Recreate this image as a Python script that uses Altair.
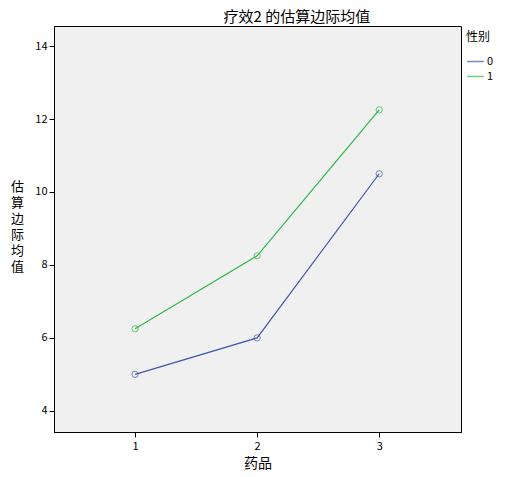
import altair as alt
import pandas as pd

drug = [1, 2, 3]
sex0 = [5.0, 6.0, 10.5]
sex1 = [6.25, 8.25, 12.25]
groups = ["0", "1"]
colors = ["#3E58AC", "#2EB848"]

rows = []
for d, v in zip(drug, sex0):
    rows.append({"药品": d, "均值": v, "性别": "0"})
for d, v in zip(drug, sex1):
    rows.append({"药品": d, "均值": v, "性别": "1"})
df = pd.DataFrame(rows)

FONT = "Noto Sans CJK SC"

base = alt.Chart(df).encode(
    x=alt.X("药品:Q", scale=alt.Scale(domain=[0.336, 3.67], nice=False, zero=False),
            axis=alt.Axis(values=[1, 2, 3], format="d", title="药品", grid=False,
                          tickSize=5, tickColor="#000", domainColor="#000",
                          labelFontSize=11, labelFont=FONT, labelColor="#000",
                          titleFont=FONT, titleFontSize=14, titleFontWeight="normal",
                          titleColor="#000", titlePadding=5, labelPadding=3)),
    y=alt.Y("均值:Q", scale=alt.Scale(domain=[3.42, 14.55], nice=False, zero=False),
            axis=alt.Axis(values=[4, 6, 8, 10, 12, 14], grid=False, tickSize=5,
                          tickColor="#000", domainColor="#000",
                          labelFontSize=11, labelFont=FONT, labelColor="#000",
                          title=["估", "算", "边", "际", "均", "值"], titleAngle=0,
                          titleFont=FONT, titleFontSize=13, titleFontWeight="normal",
                          titleColor="#000", titleX=-37, titleY=154,
                          titleBaseline="top", titleAlign="center", titleLineHeight=16)),
    color=alt.Color("性别:N", scale=alt.Scale(domain=groups, range=colors),
                    legend=alt.Legend(title="性别", orient="none", legendX=412, legendY=6,
                                      symbolType="stroke", symbolSize=280, symbolStrokeWidth=1.5,
                                      titleFont=FONT, titleFontSize=12, titleFontWeight="normal",
                                      titleColor="#000", labelFont=FONT, labelFontSize=11,
                                      labelColor="#000", rowPadding=0, titlePadding=8,
                                      labelOffset=2)),
)

lines = base.mark_line(strokeWidth=1.2)
points = base.mark_point(shape="circle", filled=False, size=40, strokeWidth=1)

chart = (lines + points).properties(
    width=407, height=406,
    title=alt.TitleParams("疗效2 的估算边际均值", anchor="start", dx=213, offset=1,
                          font=FONT, fontSize=15, fontWeight="normal", color="#000"),
    autosize=alt.AutoSizeParams(type="none"),
    padding={"left": 46, "top": 18, "right": 37, "bottom": 45},
    background="white",
).configure_view(fill="#F0F0F0", stroke="#000", strokeWidth=1)

chart.save("out.html", embed_options={"renderer": "svg", "actions": False})
